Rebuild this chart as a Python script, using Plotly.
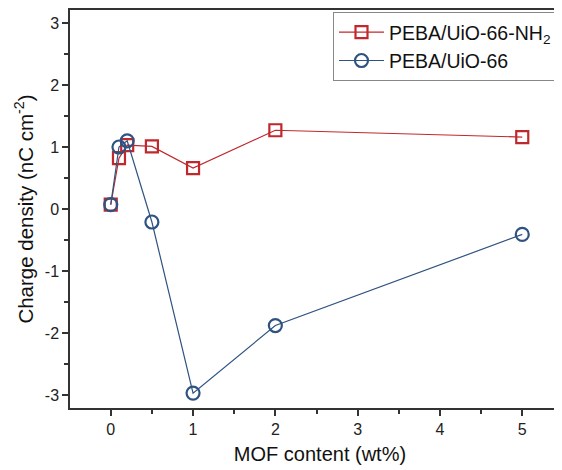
import plotly.graph_objects as go

mof_content = [0, 0.1, 0.2, 0.5, 1, 2, 5]
nh2_density = [0.07, 0.82, 1.03, 1.01, 0.66, 1.27, 1.16]
uio_density = [0.07, 1.00, 1.10, -0.21, -2.97, -1.88, -0.41]
x_ticks = [0, 1, 2, 3, 4, 5]
y_ticks = [-3, -2, -1, 0, 1, 2, 3]

red = "#c0282d"
blue = "#2f5380"

fig = go.Figure()
fig.add_trace(go.Scatter(
    x=mof_content, y=nh2_density, mode="lines+markers",
    name="PEBA/UiO-66-NH<sub>2</sub>",
    line=dict(color=red, width=1.2),
    marker=dict(symbol="square-open", size=12, color=red, line=dict(width=2.2, color=red)),
))
fig.add_trace(go.Scatter(
    x=mof_content, y=uio_density, mode="lines+markers",
    name="PEBA/UiO-66",
    line=dict(color=blue, width=1.2),
    marker=dict(symbol="circle-open", size=13, color=blue, line=dict(width=2.2, color=blue)),
))

axis_font = dict(family="Liberation Sans, Arial", size=16, color="#222")
fig.update_layout(
    width=562, height=462,
    margin=dict(l=62, r=0, t=2, b=62),
    plot_bgcolor="white", paper_bgcolor="white",
    font=dict(family="Liberation Sans, Arial", size=17, color="#111"),
    showlegend=True,
    legend=dict(
        x=0.974, y=0.995, xanchor="right", yanchor="top",
        bordercolor="#888", borderwidth=1, bgcolor="white",
        font=dict(size=19.5, family="Liberation Sans, Arial", color="#111"),
        tracegroupgap=0, itemwidth=45,
    ),
    xaxis=dict(
        range=[-0.495, 5.58], tickmode="array", tickvals=x_ticks,
        ticktext=[str(v) for v in x_ticks],
        ticks="outside", ticklen=6, tickwidth=1.5, tickcolor="#333",
        minor=dict(tickmode="array", tickvals=[-0.5, 0.5, 1.5, 2.5, 3.5, 4.5], ticks="outside", ticklen=4, tickwidth=1.5, tickcolor="#333"),
        showline=True, linecolor="#333", linewidth=1.5, mirror=True,
        showgrid=False, zeroline=False,
        tickfont=axis_font,
        title=dict(text="MOF content (wt%)", font=dict(size=20), standoff=10),
    ),
    yaxis=dict(
        range=[-3.21, 3.21], tickmode="array", tickvals=y_ticks,
        ticktext=[str(v) for v in y_ticks],
        ticks="outside", ticklen=6, tickwidth=1.5, tickcolor="#333",
        minor=dict(tickmode="array", tickvals=[-2.5, -1.5, -0.5, 0.5, 1.5, 2.5], ticks="outside", ticklen=4, tickwidth=1.5, tickcolor="#333"),
        showline=True, linecolor="#333", linewidth=1.5, mirror=False,
        showgrid=False, zeroline=False,
        tickfont=axis_font,
        title=dict(text="Charge density (nC cm<sup>-2</sup>)", font=dict(size=20.5), standoff=6),
    ),
)

fig.write_html("out.html")
